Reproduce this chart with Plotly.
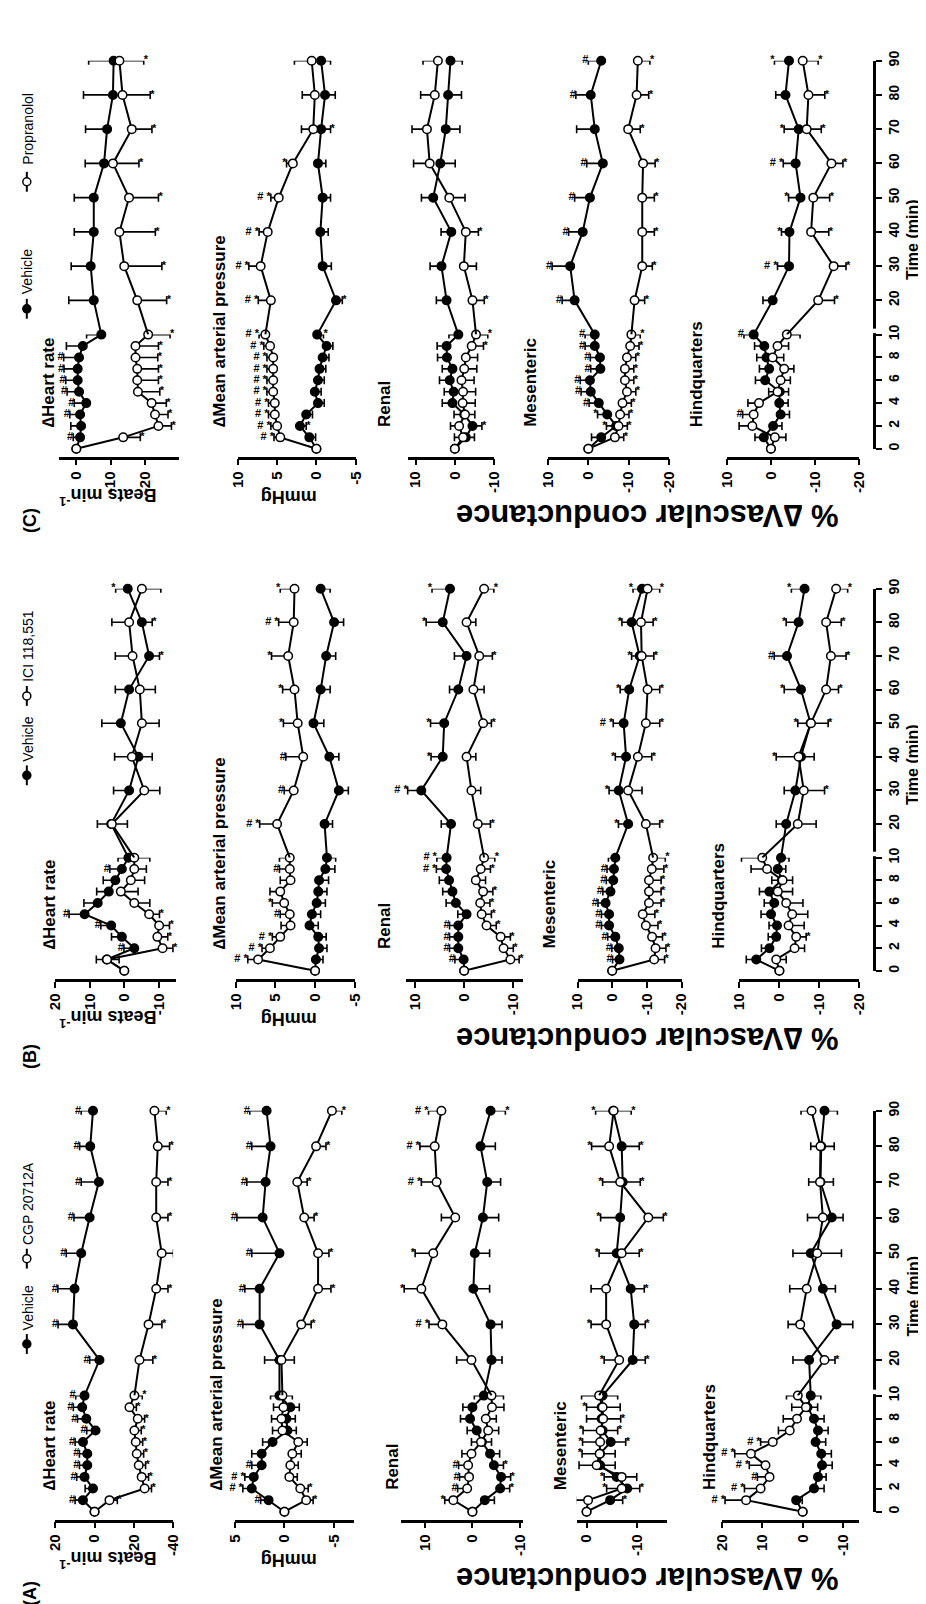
import plotly.graph_objects as go

W, H = 926, 1604
FONT = "Liberation Sans"

# ---------------- data ----------------
TIME = [0, 1, 2, 3, 4, 5, 6, 7, 8, 9, 10, 20, 30, 40, 50, 60, 70, 80, 90]
SEG1_TICKS = [0, 2, 4, 6, 8, 10]
SEG2_TICKS = [20, 30, 40, 50, 60, 70, 80, 90]

ROW_TITLES = ["\u2206Heart rate", "\u2206Mean arterial pressure", "Renal", "Mesenteric", "Hindquarters"]
VEHICLE_NAME = "Vehicle"

# Panel A : Vehicle vs CGP 20712A
A_HR_VEH = [0, 5.9, 0.8, 5.1, 3.7, 3.7, 5.9, -0.5, 4.2, 6.3, 5.1, -2.5, 11.0, 10.2, 6.8, 2.5, -2.2, 2.2, 0.8]
A_HR_VEH_SEM = [0, 4, 4, 4, 4, 4, 4, 4.5, 4.5, 4.5, 4.5, 5, 7.6, 8.5, 7.6, 8, 9, 5.4, 6]
A_HR_VEH_SIG = ["", "#", "", "#", "#", "#", "#", "#", "#", "#", "#", "#", "#", "#", "#", "#", "#", "#", "#"]
A_HR_DRUG = [0, -7.6, -25.5, -24.0, -22.5, -21.5, -21.0, -20.3, -22.0, -17.8, -20.3, -22.9, -27.5, -31.4, -34.2, -31.4, -31.4, -32.2, -30.5]
A_HR_DRUG_SEM = [0, 4, 3.5, 3.5, 3.5, 3.5, 3.5, 3.5, 3.5, 3.5, 4, 6.8, 6.8, 6, 6, 6, 6, 6, 6]
A_HR_DRUG_SIG = ["", "*", "*", "*", "*", "*", "*", "*", "*", "*", "*", "*", "*", "*", "*", "*", "*", "*", "*"]

A_MAP_VEH = [0, 1.6, 3.3, 3.1, 2.3, 2.3, 1.2, -0.3, -0.2, -0.6, 0.5, 0.5, 2.5, 2.5, 0.5, 2.2, 1.9, 1.4, 1.8]
A_MAP_VEH_SEM = [0, 0.8, 0.9, 0.9, 1.0, 1.0, 1.0, 0.9, 0.9, 0.9, 0.9, 1.5, 1.7, 1.5, 2.8, 2.6, 1.9, 1.9, 1.7]
A_MAP_VEH_SIG = ["", "#", "# *", "# *", "#", "", "", "", "", "", "", "", "#", "#", "#", "#", "#", "#", "#"]
A_MAP_DRUG = [0, -2.2, -1.6, -0.5, -0.6, -0.8, -1.4, 0.2, 0.3, 0.1, 0.2, 0.3, -1.7, -3.4, -3.4, -2.0, -1.3, -3.2, -4.8]
A_MAP_DRUG_SEM = [0, 0.7, 0.8, 0.8, 0.8, 0.9, 0.9, 1.0, 1.0, 1.0, 1.0, 1.3, 1.0, 1.3, 1.1, 1.0, 1.0, 1.0, 1.0]
A_MAP_DRUG_SIG = ["", "*", "*", "", "", "", "", "", "", "", "", "", "*", "*", "*", "*", "*", "*", "*"]

A_REN_VEH = [0, -2.6, -5.8, -6.0, -4.5, -3.7, -2.0, -0.9, 0.5, 0, -2.4, -4.0, -3.8, -0.2, -0.5, -2.2, -3.1, -1.7, -3.8]
A_REN_VEH_SEM = [0, 2, 2, 2, 2, 2, 2, 2, 2, 2, 2, 2.2, 2.4, 3.4, 3.1, 3.3, 2.8, 3.1, 3.1]
A_REN_VEH_SIG = ["", "", "*", "*", "*", "", "", "", "", "", "", "", "", "", "", "", "", "", "*"]
A_REN_DRUG = [0, 4.0, 1.1, 0.7, 0.9, 0.2, -1.8, -3.3, -2.8, -4.1, -4.0, 0.2, 6.3, 10.7, 8.2, 3.6, 7.5, 7.9, 6.5]
A_REN_DRUG_SEM = [0, 1.8, 2, 2, 2, 2, 2, 2.2, 2.2, 2.5, 2.5, 3.1, 2.8, 3.6, 3.8, 2.9, 3.2, 3.1, 2.7]
A_REN_DRUG_SIG = ["", "*", "#", "#", "#", "", "", "", "", "", "", "", "# *", "*", "*", "", "# *", "# *", "# *"]

A_MES_VEH = [0, -4.7, -8.1, -6.0, -2.7, -2.7, -4.8, -3.2, -3.0, -3.0, -3.2, -9.2, -9.5, -8.8, -6.0, -6.7, -7.2, -7.0, -5.3]
A_MES_VEH_SEM = [0, 2.5, 2.5, 2.5, 3, 3, 3, 3, 3, 3, 3, 2.5, 2.2, 2.7, 3.5, 3.9, 3.5, 3.5, 3.5]
A_MES_VEH_SIG = ["", "*", "*", "*", "", "", "*", "*", "", "*", "", "*", "*", "*", "*", "*", "*", "*", "*"]
A_MES_DRUG = [0, -0.3, -7.0, -7.0, -2.0, -2.6, -2.7, -2.8, -3.3, -3.2, -2.5, -6.5, -3.9, -3.9, -7.0, -12.3, -6.7, -4.5, -5.4]
A_MES_DRUG_SEM = [0, 2.5, 3, 3, 3.5, 3.5, 3.5, 3.5, 3.5, 3.5, 3.5, 3, 3, 3, 3.5, 3, 3.5, 3.5, 3.5]
A_MES_DRUG_SIG = ["", "", "*", "", "", "*", "*", "*", "*", "", "", "*", "*", "", "*", "*", "*", "*", "*"]

A_HQ_VEH = [0, 1.6, -2.8, -3.8, -4.8, -4.6, -3.2, -3.8, -2.8, -1.2, -2.0, -1.6, -8.4, -5.0, -2.0, -7.2, -4.4, -4.6, -5.4]
A_HQ_VEH_SEM = [0, 1.5, 2.5, 2, 2.5, 2.5, 2.5, 2.5, 2.5, 2.5, 2.5, 4, 4, 3.1, 4.4, 2.8, 3.2, 3.2, 3.2]
A_HQ_VEH_SIG = ["", "", "", "", "", "", "", "", "", "", "", "", "", "", "", "", "", "", ""]
A_HQ_DRUG = [0, 14.0, 10.4, 8.2, 9.2, 12.8, 7.4, 3.2, 1.4, -0.8, 1.2, -5.4, 0.6, -1.0, -3.6, -5.0, -4.3, -4.4, -2.2]
A_HQ_DRUG_SEM = [0, 5.2, 4, 3, 4, 4, 3, 2.8, 3.4, 3.5, 2.8, 2.6, 3, 4.2, 6, 3.8, 2.8, 2.4, 2.6]
A_HQ_DRUG_SIG = ["", "# *", "# *", "#", "# *", "# *", "# *", "", "", "", "", "*", "", "", "", "", "", "", ""]

# Panel B : Vehicle vs ICI 118,551
B_HR_VEH = [0, 5.1, -2.9, 0.7, 3.8, 11.5, 7.7, 4.5, 2.6, 0.7, -1.2, 3.8, -1.4, -4.1, 1.0, -1.4, -7.2, -5.1, -1.0]
B_HR_VEH_SEM = [0, 3, 3, 3, 3, 4.5, 4, 3.5, 3.5, 3.5, 3, 4, 4.5, 4, 5.5, 4, 3, 3, 3.5]
B_HR_VEH_SIG = ["", "", "#", "", "#", "#", "", "", "", "#", "", "", "", "", "", "", "*", "*", "*"]
B_HR_DRUG = [0, 5.0, -11.1, -9.6, -10.1, -7.2, -2.9, 1.0, -1.9, -2.9, -2.9, 3.6, -5.8, -2.2, -5.1, -4.5, -2.4, -1.4, -5.1]
B_HR_DRUG_SEM = [0, 3.5, 3, 3, 3, 3, 4.5, 5, 4, 3.5, 4.5, 4.5, 4.5, 5, 5, 4.5, 5, 5, 5.5]
B_HR_DRUG_SIG = ["", "", "*", "*", "*", "*", "", "", "", "", "", "", "", "", "", "", "", "", ""]

B_MAP_VEH = [0, -0.1, -0.5, -0.4, 0.7, 0.4, -0.2, -0.4, -0.5, -1.3, -1.5, -1.2, -3.0, -1.8, 0.2, -0.7, -1.4, -2.4, -0.7]
B_MAP_VEH_SEM = [0, 0.9, 1.0, 1.0, 1.1, 1.1, 1.1, 1.1, 1.2, 1.2, 1.1, 1.0, 1.2, 1.2, 1.3, 1.2, 1.2, 1.2, 1.2]
B_MAP_VEH_SIG = ["", "", "", "", "", "", "", "", "", "", "", "", "", "", "", "", "", "", ""]
B_MAP_DRUG = [0, 7.2, 5.7, 4.4, 3.1, 3.2, 3.9, 4.4, 3.1, 3.2, 3.2, 4.8, 2.7, 1.5, 2.2, 2.6, 3.4, 2.7, 2.6]
B_MAP_DRUG_SEM = [0, 1.3, 1.0, 1.0, 1.2, 1.2, 1.5, 1.3, 1.3, 1.3, 1.3, 2.2, 1.2, 2.2, 1.8, 1.5, 2.1, 1.9, 1.8]
B_MAP_DRUG_SIG = ["", "# *", "# *", "# *", "", "#", "*", "", "", "#", "", "# *", "#", "#", "*", "*", "*", "# *", "*"]

B_REN_VEH = [0, 0.1, 1.2, 1.2, 1.2, -0.5, 1.7, 2.4, 3.1, 3.7, 3.6, 2.7, 8.8, 4.4, 4.1, 1.2, -0.5, 4.4, 2.9]
B_REN_VEH_SEM = [0, 1.8, 1.8, 1.8, 1.8, 1.8, 2, 2, 2, 2, 2, 2.0, 2.8, 2.4, 2.8, 1.8, 2.5, 3.4, 3.7]
B_REN_VEH_SIG = ["", "#", "#", "#", "#", "", "", "", "", "# *", "# *", "", "# *", "*", "*", "", "", "*", "*"]
B_REN_DRUG = [0, -9.5, -8.1, -7.5, -4.6, -3.6, -3.3, -3.9, -2.4, -3.4, -4.1, -2.8, -1.5, -0.5, -3.9, -1.9, -3.1, -0.5, -4.1]
B_REN_DRUG_SEM = [0, 1.8, 2, 2, 2, 2, 2, 2, 2, 2, 2.2, 2.6, 1.9, 1.9, 1.7, 2.2, 2.7, 1.9, 2.0]
B_REN_DRUG_SIG = ["", "*", "*", "*", "*", "*", "*", "*", "", "*", "*", "*", "", "", "*", "", "*", "", "*"]

B_MES_VEH = [0, -2.1, -1.9, -0.9, 0.9, 0.9, 1.9, 0.5, -0.3, -0.5, -0.9, -4.6, -1.9, -4.0, -3.3, -4.9, -7.9, -5.6, -8.6]
B_MES_VEH_SEM = [0, 2, 2, 2.2, 2.2, 2.2, 2.2, 2.2, 2, 2, 2, 2.8, 2.8, 3.1, 3.0, 2.6, 2.3, 2.8, 2.6]
B_MES_VEH_SIG = ["", "#", "#", "#", "#", "#", "#", "#", "#", "#", "", "*", "*", "*", "# *", "*", "*", "*", "*"]
B_MES_DRUG = [0, -12.1, -12.5, -11.5, -9.7, -8.8, -10.6, -10.6, -10.6, -11.4, -11.8, -9.7, -4.6, -7.4, -9.7, -10.2, -8.5, -8.3, -10.2]
B_MES_DRUG_SEM = [0, 3, 3, 3, 3.5, 3.5, 3.5, 3.5, 3.5, 3.5, 3.5, 4, 4, 4, 4, 3.5, 3.5, 3.5, 3.5]
B_MES_DRUG_SIG = ["", "*", "*", "*", "*", "*", "*", "*", "*", "*", "*", "*", "", "*", "*", "*", "*", "*", "*"]

B_HQ_VEH = [0, 5.8, 2.5, 0.8, 0.6, 2.1, 1.3, 2.5, -0.6, 0.4, -0.4, -1.7, -4.0, -5.4, -7.8, -5.4, -1.9, -4.8, -6.3]
B_HQ_VEH_SEM = [0, 2.5, 2, 2, 2, 2.5, 2.5, 2.5, 2.5, 2, 2, 2.5, 2.8, 3.3, 3.2, 4.2, 3.2, 3.1, 3.3]
B_HQ_VEH_SIG = ["", "", "", "", "", "", "", "", "", "", "", "", "", "", "*", "*", "#", "*", "*"]
B_HQ_DRUG = [0, 0.8, -3.8, -4.2, -2.3, -3.2, -1.7, 0.4, -0.8, 3.1, 4.3, -4.6, -6.1, -4.8, -7.9, -11.7, -12.9, -11.7, -14.2]
B_HQ_DRUG_SEM = [0, 2.5, 2.5, 2.5, 3.9, 3.9, 4.2, 3.7, 2.5, 4, 5.2, 4.6, 5.2, 5.6, 4.3, 3.1, 3.8, 3.8, 2.9]
B_HQ_DRUG_SIG = ["", "", "", "*", "", "", "", "", "", "", "", "", "*", "*", "*", "*", "*", "*", "*"]

# Panel C : Vehicle vs Propranolol
C_HR_VEH = [0, -1.1, -1.4, -1.1, -2.9, -0.8, -0.4, -0.4, -0.8, -1.9, -7.3, -5.1, -4.2, -5.1, -5.1, -8.1, -9.0, -10.7, -10.9]
C_HR_VEH_SEM = [0, 2, 3, 3, 3.5, 3.5, 3.5, 4, 4.5, 4.8, 4.3, 7.3, 5.7, 5.7, 5.7, 5.5, 6.3, 8.6, 7.3]
C_HR_VEH_SIG = ["", "#", "", "#", "#", "#", "#", "#", "#", "", "", "", "", "", "", "", "", "", ""]
C_HR_DRUG = [0, -13.7, -24.0, -23.0, -22.0, -18.0, -17.8, -17.8, -17.3, -17.3, -21.0, -17.8, -14.0, -12.6, -15.4, -10.7, -16.2, -13.5, -12.6]
C_HR_DRUG_SEM = [0, 5, 3.8, 3.8, 4.3, 6.4, 6.2, 6.2, 6.5, 6.7, 6.4, 8.6, 11, 10.5, 8.6, 7.6, 5.9, 8.1, 7.1]
C_HR_DRUG_SIG = ["", "*", "*", "*", "*", "*", "*", "*", "*", "*", "*", "*", "*", "*", "*", "*", "*", "*", "*"]

C_MAP_VEH = [0, 0.9, 2.1, 1.3, -0.2, 0.2, -0.2, -0.4, -0.8, -1.3, -0.1, -2.5, -0.8, -0.5, -0.8, -0.2, -0.6, -1.1, -0.6]
C_MAP_VEH_SEM = [0, 0.8, 0.8, 0.8, 0.8, 0.8, 0.8, 0.8, 0.8, 0.8, 0.8, 0.8, 1.1, 1.0, 1.0, 1.0, 1.2, 1.3, 1.2]
C_MAP_VEH_SIG = ["", "", "*", "", "", "", "", "", "", "", "*", "*", "", "", "", "", "*", "", ""]
C_MAP_DRUG = [0, 4.6, 5.0, 5.3, 5.3, 5.5, 5.5, 5.5, 5.5, 5.9, 6.5, 5.8, 7.1, 6.2, 4.8, 3.0, 0.4, 0.2, 0.6]
C_MAP_DRUG_SEM = [0, 0.8, 0.8, 0.8, 0.8, 0.8, 0.8, 0.8, 0.8, 0.8, 0.8, 1.6, 1.5, 1.1, 1.0, 0.8, 1.5, 1.6, 2.2]
C_MAP_DRUG_SIG = ["", "# *", "# *", "# *", "# *", "# *", "# *", "# *", "# *", "# *", "# *", "# *", "# *", "# *", "# *", "*", "", "", ""]

C_REN_VEH = [0, -2.8, -4.5, -2.4, 0.6, 0.3, 1.3, 0.6, 2.0, 2.1, -0.9, 2.1, 3.4, 0.9, 5.5, 3.7, 2.3, 1.7, 1.1]
C_REN_VEH_SEM = [0, 2.2, 2.4, 2.6, 2.6, 2.4, 2.6, 2.6, 2.4, 2.4, 2.4, 2.6, 2.9, 2.6, 3.0, 3.8, 3.6, 3.4, 3.0]
C_REN_VEH_SIG = ["", "", "*", "", "", "", "", "", "", "", "", "", "", "", "", "", "", "", ""]
C_REN_DRUG = [0, -2.1, -1.1, -2.6, -2.0, -2.1, -1.7, -2.4, -2.8, -4.3, -5.4, -4.5, -2.3, -2.8, 1.4, 6.4, 7.1, 5.1, 4.3]
C_REN_DRUG_SEM = [0, 2.2, 2.2, 2.5, 3.2, 3.2, 3.2, 3.2, 3.0, 3.0, 3.0, 3.0, 3.2, 3.2, 4.0, 4.1, 3.8, 3.6, 3.8]
C_REN_DRUG_SIG = ["", "", "", "", "", "", "", "", "", "*", "*", "*", "", "*", "", "", "", "", ""]

C_MES_VEH = [0, -3.2, -6.9, -4.7, -2.6, -0.6, -0.4, -3.0, -2.9, -1.6, -1.6, 3.4, 4.5, 1.4, -0.4, -3.6, -1.6, -0.6, -3.2]
C_MES_VEH_SEM = [0, 2.4, 2.4, 2.4, 2.4, 2.4, 2.4, 2.4, 2.4, 2.4, 2.4, 3.1, 4.5, 3.5, 3.8, 4.0, 4.5, 3.7, 3.2]
C_MES_VEH_SIG = ["", "", "*", "*", "#", "#", "#", "#", "#", "#", "#", "#", "#", "#", "#", "#", "", "#", "#"]
C_MES_DRUG = [0, -6.6, -7.5, -7.9, -8.5, -9.6, -9.1, -9.1, -9.6, -10.4, -10.7, -11.5, -13.4, -13.4, -13.4, -13.6, -9.9, -12.0, -12.3]
C_MES_DRUG_SEM = [0, 2.2, 2.2, 2.2, 2.2, 2.2, 2.2, 2.2, 2.2, 2.2, 2.2, 2.5, 2.5, 3.0, 3.0, 3.0, 3.0, 3.0, 3.0]
C_MES_DRUG_SIG = ["", "*", "*", "*", "*", "*", "*", "*", "*", "*", "*", "*", "*", "*", "*", "*", "*", "*", "*"]

C_HQ_VEH = [0, 1.6, -0.5, -2.2, -1.9, -2.0, 1.3, 0.4, 1.0, 1.5, 3.9, -0.4, -4.1, -4.2, -6.7, -5.6, -6.3, -3.3, -4.1]
C_HQ_VEH_SEM = [0, 2, 2, 2, 2, 2, 2.2, 2.2, 2.2, 2.2, 2.2, 2.2, 2.6, 1.8, 2.7, 2.8, 3.3, 2.2, 3.3]
C_HQ_VEH_SIG = ["", "", "", "", "", "", "", "", "", "", "#", "", "# *", "*", "*", "# *", "*", "", "*"]
C_HQ_DRUG = [0, -0.9, 4.2, 3.9, 2.7, -1.5, -2.2, -3.0, -0.4, -1.5, -3.6, -10.7, -14.2, -9.1, -9.6, -13.7, -8.1, -8.5, -7.2]
C_HQ_DRUG_SEM = [0, 2.5, 3.0, 2.5, 2.5, 2.0, 2.2, 2.2, 2.5, 2.5, 3.0, 3.7, 2.8, 4.0, 3.7, 2.6, 3.3, 3.7, 3.5]
C_HQ_DRUG_SIG = ["", "", "", "#", "", "", "", "", "", "", "", "*", "*", "*", "*", "*", "*", "*", "*"]

# theta marks (value position above 90 min), None = no mark
A_THETA = [-16, -1.7, 1.1, None, -3.8]
B_THETA = [-0.5, 0.4, -0.7, -7.7, -10.4]
C_THETA = [None, 0.3, None, -7.3, -7.8]

# value-axis ranges and ticks
A_RANGES = [(20, -40), (5, -7), (15, -10.5), (2, -16), (20, -14)]
A_TICKS = [[20, 0, -20, -40], [5, 0, -5], [10, 0, -10], [0, -10], [20, 10, 0, -10]]
B_RANGES = [(20, -15), (10, -5), (12, -12), (10, -20), (10, -20)]
B_TICKS = [[20, 10, 0, -10], [10, 5, 0, -5], [10, 0, -10], [10, 0, -10, -20], [10, 0, -10, -20]]
C_RANGES = [(5, -30), (10, -5), (12, -10), (10, -20), (10, -20)]
C_TICKS = [[0, -10, -20], [10, 5, 0, -5], [10, 0, -10], [10, 0, -10, -20], [10, 0, -10, -20]]

PANELS = [
    dict(label="(A)", drug="CGP 20712A", ranges=A_RANGES, ticks=A_TICKS, theta=A_THETA,
         rows=[(A_HR_VEH, A_HR_VEH_SEM, A_HR_VEH_SIG, A_HR_DRUG, A_HR_DRUG_SEM, A_HR_DRUG_SIG),
               (A_MAP_VEH, A_MAP_VEH_SEM, A_MAP_VEH_SIG, A_MAP_DRUG, A_MAP_DRUG_SEM, A_MAP_DRUG_SIG),
               (A_REN_VEH, A_REN_VEH_SEM, A_REN_VEH_SIG, A_REN_DRUG, A_REN_DRUG_SEM, A_REN_DRUG_SIG),
               (A_MES_VEH, A_MES_VEH_SEM, A_MES_VEH_SIG, A_MES_DRUG, A_MES_DRUG_SEM, A_MES_DRUG_SIG),
               (A_HQ_VEH, A_HQ_VEH_SEM, A_HQ_VEH_SIG, A_HQ_DRUG, A_HQ_DRUG_SEM, A_HQ_DRUG_SIG)],
         geom=dict(t0=1505, s1=1388, t90=1101, label_dy=82,
                   cols=[(39, 159), (222, 343), (391, 515), (570, 662), (718, 858)],
                   title_x=[34, 204, 383, 554, 706], leg=(1336, 1324, 1250, 1238))),
    dict(label="(B)", drug="ICI 118,551", ranges=B_RANGES, ticks=B_TICKS, theta=B_THETA,
         rows=[(B_HR_VEH, B_HR_VEH_SEM, B_HR_VEH_SIG, B_HR_DRUG, B_HR_DRUG_SEM, B_HR_DRUG_SIG),
               (B_MAP_VEH, B_MAP_VEH_SEM, B_MAP_VEH_SIG, B_MAP_DRUG, B_MAP_DRUG_SEM, B_MAP_DRUG_SIG),
               (B_REN_VEH, B_REN_VEH_SEM, B_REN_VEH_SIG, B_REN_DRUG, B_REN_DRUG_SEM, B_REN_DRUG_SIG),
               (B_MES_VEH, B_MES_VEH_SEM, B_MES_VEH_SIG, B_MES_DRUG, B_MES_DRUG_SEM, B_MES_DRUG_SIG),
               (B_HQ_VEH, B_HQ_VEH_SEM, B_HQ_VEH_SIG, B_HQ_DRUG, B_HQ_DRUG_SEM, B_HQ_DRUG_SIG)],
         geom=dict(t0=960, s1=846, t90=575, label_dy=86,
                   cols=[(39, 162), (223, 344), (396, 515), (571, 677), (736, 858)],
                   title_x=[34, 207, 375, 542, 715], leg=(763, 751, 683, 671))),
    dict(label="(C)", drug="Propranolol", ranges=C_RANGES, ticks=C_TICKS, theta=C_THETA,
         rows=[(C_HR_VEH, C_HR_VEH_SEM, C_HR_VEH_SIG, C_HR_DRUG, C_HR_DRUG_SEM, C_HR_DRUG_SIG),
               (C_MAP_VEH, C_MAP_VEH_SEM, C_MAP_VEH_SIG, C_MAP_DRUG, C_MAP_DRUG_SEM, C_MAP_DRUG_SIG),
               (C_REN_VEH, C_REN_VEH_SEM, C_REN_VEH_SIG, C_REN_DRUG, C_REN_DRUG_SEM, C_REN_DRUG_SIG),
               (C_MES_VEH, C_MES_VEH_SEM, C_MES_VEH_SIG, C_MES_DRUG, C_MES_DRUG_SEM, C_MES_DRUG_SIG),
               (C_HQ_VEH, C_HQ_VEH_SEM, C_HQ_VEH_SIG, C_HQ_DRUG, C_HQ_DRUG_SEM, C_HQ_DRUG_SIG)],
         geom=dict(t0=434, s1=319, t90=43, label_dy=72,
                   cols=[(43, 165), (225, 345), (398, 486), (541, 664), (723, 858)],
                   title_x=[32, 207, 375, 523, 693], leg=(293, 280, 165, 150))),
]

for P in PANELS:
    for row in P["rows"]:
        for arr in row:
            assert len(arr) == len(TIME), (P["label"], len(arr))

# ---------------- figure ----------------
TIME_AXIS_X = 873


def X(px):
    return px / W


def Y(py):
    return 1 - py / H


def fmt(v):
    return str(int(v)) if float(v).is_integer() else str(v)


def note(px, py, text, size, angle, xanchor="center", yanchor="middle", bold=True):
    return dict(x=X(px), y=Y(py), xref="paper", yref="paper",
                text=f"<b>{text}</b>" if bold else text, showarrow=False, textangle=angle,
                xanchor=xanchor, yanchor=yanchor,
                font=dict(family=FONT, size=size, color="black"))


fig = go.Figure()
layout = dict(width=W, height=H, margin=dict(l=0, r=0, t=0, b=0),
              paper_bgcolor="white", plot_bgcolor="white", showlegend=False,
              font=dict(family=FONT, color="black"))
annotations = []
shapes = []

N1 = 11  # number of points in first time segment (0..10 min)

for p, P in enumerate(PANELS):
    g = P["geom"]
    for r in range(5):
        k = p * 5 + r
        xn, y1n, y2n = k + 1, 2 * k + 1, 2 * k + 2
        xk = "xaxis" if xn == 1 else f"xaxis{xn}"
        y1k = "yaxis" if y1n == 1 else f"yaxis{y1n}"
        y2k = f"yaxis{y2n}"
        xr = "x" if xn == 1 else f"x{xn}"
        y1r = "y" if y1n == 1 else f"y{y1n}"
        y2r = f"y{y2n}"
        hi, lo = P["ranges"][r]
        ticks = P["ticks"][r]
        c0, c1 = g["cols"][r]
        layout[xk] = dict(domain=[X(c0), X(c1)], range=[hi, lo], anchor="free",
                          position=Y(g["t0"] + 9), showline=True, linecolor="black",
                          linewidth=2.5, ticks="outside", ticklen=6, tickwidth=2,
                          tickcolor="black", tickvals=ticks, ticktext=[fmt(v) for v in ticks],
                          tickangle=-90, tickfont=dict(family=FONT, size=15, color="black", weight="bold"),
                          showgrid=False, zeroline=False, fixedrange=True)
        if r == 4:
            common = dict(anchor="free", position=X(TIME_AXIS_X), side="right", showline=True,
                          linecolor="black", linewidth=2.5, ticks="outside", ticklen=6,
                          tickwidth=2, tickcolor="black", tickangle=-90,
                          tickfont=dict(family=FONT, size=14, color="black", weight="bold"),
                          showgrid=False, zeroline=False, fixedrange=True)
            layout[y1k] = dict(domain=[Y(g["t0"]), Y(g["s1"])], range=[0, 10],
                               tickvals=SEG1_TICKS, ticktext=[str(t) for t in SEG1_TICKS], **common)
            layout[y2k] = dict(domain=[Y(g["s1"]), Y(g["t90"])], range=[10, 90],
                               tickvals=SEG2_TICKS, ticktext=[str(t) for t in SEG2_TICKS], **common)
            shapes.append(dict(type="rect", xref="paper", yref="paper",
                               x0=X(TIME_AXIS_X - 3), x1=X(TIME_AXIS_X + 3),
                               y0=Y(g["s1"] - 1.5), y1=Y(g["s1"] - 6),
                               fillcolor="white", line=dict(width=0), layer="above"))
        else:
            layout[y1k] = dict(domain=[Y(g["t0"]), Y(g["s1"])], range=[0, 10], visible=False,
                               anchor=xr, fixedrange=True)
            layout[y2k] = dict(domain=[Y(g["s1"]), Y(g["t90"])], range=[10, 90], visible=False,
                               anchor=xr, fixedrange=True)

        veh, veh_sem, veh_sig, drug, drug_sem, drug_sig = P["rows"][r]
        series = [(veh, veh_sem, veh_sig, drug, True), (drug, drug_sem, drug_sig, veh, False)]
        for vals, sem, sig, other, is_veh in series:
            up = [(a >= b) if is_veh else (a > b) for a, b in zip(vals, other)]
            plus = [e if u else 0 for e, u in zip(sem, up)]
            minus = [0 if u else e for e, u in zip(sem, up)]
            mcol = "black" if is_veh else "white"
            marker = dict(symbol="circle", size=8.5, color=mcol, line=dict(color="black", width=1.5))

            def err(a, b):
                return dict(type="data", symmetric=False, array=a, arrayminus=b,
                            color="black", thickness=1.6, width=4)

            # segment 1 (0-10 min)
            fig.add_trace(go.Scatter(x=vals[:N1], y=TIME[:N1], xaxis=xr, yaxis=y1r,
                                     mode="lines+markers", line=dict(color="black", width=2),
                                     marker=marker, error_x=err(plus[:N1], minus[:N1]),
                                     cliponaxis=False, hoverinfo="skip"))
            # segment 2 connecting line (10-90 min)
            fig.add_trace(go.Scatter(x=vals[N1 - 1:], y=TIME[N1 - 1:], xaxis=xr, yaxis=y2r,
                                     mode="lines", line=dict(color="black", width=2),
                                     hoverinfo="skip"))
            fig.add_trace(go.Scatter(x=vals[N1:], y=TIME[N1:], xaxis=xr, yaxis=y2r,
                                     mode="markers", marker=marker,
                                     error_x=err(plus[N1:], minus[N1:]),
                                     cliponaxis=False, hoverinfo="skip"))
            # significance symbols at the end of each error bar
            ends = [v + e if u else v - e for v, e, u in zip(vals, sem, up)]
            pos = ["middle left" if u else "middle right" for u in up]
            for sl, yr in ((slice(0, N1), y1r), (slice(N1, None), y2r)):
                if not any(sig[sl]):
                    continue
                fig.add_trace(go.Scatter(x=ends[sl], y=TIME[sl], xaxis=xr, yaxis=yr,
                                         mode="text", text=sig[sl], textposition=pos[sl],
                                         textfont=dict(family=FONT, size=11, color="black", weight="bold"),
                                         cliponaxis=False, hoverinfo="skip"))

        # theta mark
        th = P["theta"][r]
        if th is not None:
            annotations.append(dict(x=th, y=98, xref=xr, yref=y2r, text="\u03b8",
                                    showarrow=False, textangle=-90, xanchor="center", yanchor="middle",
                                    font=dict(family=FONT, size=12, color="black")))
        # row title
        annotations.append(note(g["title_x"][r], g["t0"] - 20, ROW_TITLES[r], 17, -90,
                                yanchor="bottom"))

    # axis titles (upside down because the whole figure is rotated)
    t0 = g["t0"]
    annotations.append(note(93, t0 + 48, "Beats min<sup>-1</sup>", 18, 180))
    annotations.append(note(277, t0 + 48, "mmHg", 18, 180))
    annotations.append(note(642, t0 + 68, "% \u2206Vascular conductance", 31, 180))
    annotations.append(note(13, t0 + g["label_dy"], P["label"], 18, -90))
    annotations.append(note(913, (t0 + g["t90"]) / 2 - 15, "Time (min)", 16, -90))
    # legend
    g1, tb1, g2, tb2 = g["leg"]
    for gy, tb, name, fill in ((g1, tb1, VEHICLE_NAME, "black"), (g2, tb2, P["drug"], "white")):
        shapes.append(dict(type="line", xref="paper", yref="paper", x0=X(10), x1=X(10),
                           y0=Y(gy - 10), y1=Y(gy + 10), line=dict(color="black", width=2)))
        shapes.append(dict(type="circle", xref="paper", yref="paper", xsizemode="pixel",
                           ysizemode="pixel", xanchor=X(10), yanchor=Y(gy), x0=-4, x1=4, y0=-4, y1=4,
                           fillcolor=fill, line=dict(color="black", width=1.5)))
        annotations.append(note(11, tb, name, 14, -90, yanchor="bottom", bold=False))

layout["annotations"] = annotations
layout["shapes"] = shapes
fig.update_layout(**layout)
fig.write_html("out.html")
